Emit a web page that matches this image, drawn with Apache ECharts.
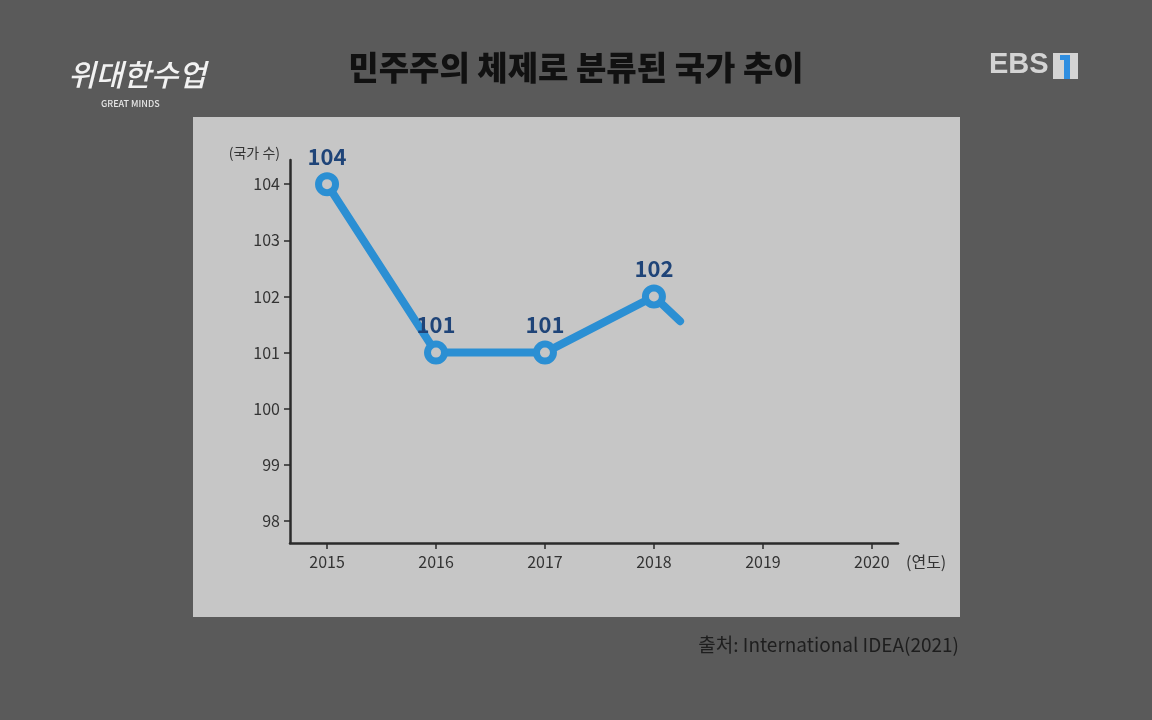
<!DOCTYPE html>
<html><head><meta charset="utf-8">
<script src="https://cdn.jsdelivr.net/npm/echarts@6/dist/echarts.min.js"></script>
<style>html,body{margin:0;padding:0;background:#5b5b5b;}#c{width:1152px;height:720px;}</style>
</head><body><div id="c"></div>
<script>
const years = [2015, 2016, 2017, 2018];
const counts = [104, 101, 101, 102];
// line frozen mid-animation toward 2019
const partialYear = 2018.24;
const partialCount = 101.56;
const xTicks = [2015, 2016, 2017, 2018, 2019, 2020];
const yTicks = [98, 99, 100, 101, 102, 103, 104];
const titleText = '민주주의 체제로 분류된 국가 추이';
const sourceText = '출처: International IDEA(2021)';

const FONT = '"Noto Sans CJK KR", "Noto Sans", sans-serif';
const BLUE = '#2b8fd3';
const PAPER = '#c6c6c6';
const chart = echarts.init(document.getElementById('c'));
chart.setOption({
  animation: false,
  backgroundColor: '#5a5a5a',
  textStyle: {fontFamily: FONT},
  graphic: [
    {type: 'rect', z: -10, shape: {x: 193, y: 117, width: 767, height: 500}, style: {fill: PAPER}},
    {type: 'text', left: 'center', top: 51, style: {text: titleText, font: '900 33px ' + FONT, fill: '#111'}},
    {type: 'text', x: 68, y: 60, style: {text: '위대한수업', font: 'italic 500 30px ' + FONT, fill: '#f2f2f2'}},
    {type: 'text', x: 101, y: 99, style: {text: 'GREAT MINDS', font: '500 9px ' + FONT, fill: '#e6e6e6'}},
    {type: 'text', x: 989, y: 50, style: {text: 'EBS', font: 'bold 29px "Liberation Sans", sans-serif', fill: '#d4d4d4'}},
    {type: 'rect', shape: {x: 1053, y: 53, width: 25, height: 26}, style: {fill: '#d4d4d4'}},
    {type: 'rect', shape: {x: 1064, y: 55, width: 6, height: 24}, style: {fill: '#2f8ee0'}},
    {type: 'rect', shape: {x: 1060, y: 55, width: 6, height: 5}, style: {fill: '#2f8ee0'}},
    {type: 'text', right: 193, top: 635, style: {text: sourceText, font: '400 19px ' + FONT, fill: '#1e1e1e'}}
  ],
  grid: {left: 290, right: 254, top: 160, bottom: 177},
  xAxis: {
    type: 'value', min: 2014.66, max: 2020.24,
    name: '(연도)', nameLocation: 'end', nameGap: 8,
    nameTextStyle: {color: '#333', fontSize: 16, verticalAlign: 'top', padding: [11, 0, 0, 0]},
    axisLine: {show: true, lineStyle: {color: '#2a2a2a', width: 2.5}},
    axisTick: {show: true, customValues: xTicks, length: 6, lineStyle: {color: '#2a2a2a', width: 1.5}},
    axisLabel: {customValues: xTicks, color: '#333', fontSize: 16, margin: 11, formatter: v => String(v)},
    splitLine: {show: false}
  },
  yAxis: {
    type: 'value', min: 97.61, max: 104.43,
    name: '(국가 수)', nameLocation: 'end', nameGap: 0,
    nameTextStyle: {color: '#333', fontSize: 14, align: 'right', padding: [0, 10, 0, 0]},
    axisLine: {show: true, lineStyle: {color: '#2a2a2a', width: 2.5}},
    axisTick: {show: true, customValues: yTicks, length: 6, lineStyle: {color: '#2a2a2a', width: 1.5}},
    axisLabel: {customValues: yTicks, color: '#333', fontSize: 16, margin: 10, formatter: v => String(v)},
    splitLine: {show: false}
  },
  series: [
    {
      type: 'line', z: 2,
      data: [[years[years.length - 1], counts[counts.length - 1]], [partialYear, partialCount]],
      showSymbol: false, symbol: 'none',
      lineStyle: {color: BLUE, width: 8, cap: 'round'}
    },
    {
      type: 'line', z: 3,
      data: years.map((y, i) => [y, counts[i]]),
      symbol: 'circle', symbolSize: 17,
      itemStyle: {color: PAPER, borderColor: BLUE, borderWidth: 7},
      lineStyle: {color: BLUE, width: 8, cap: 'round', join: 'round'},
      label: {show: true, position: 'top', distance: 5, color: '#1f4478', fontSize: 22, fontWeight: 600,
        formatter: p => String(p.value[1])}
    }
  ]
});
</script></body></html>
